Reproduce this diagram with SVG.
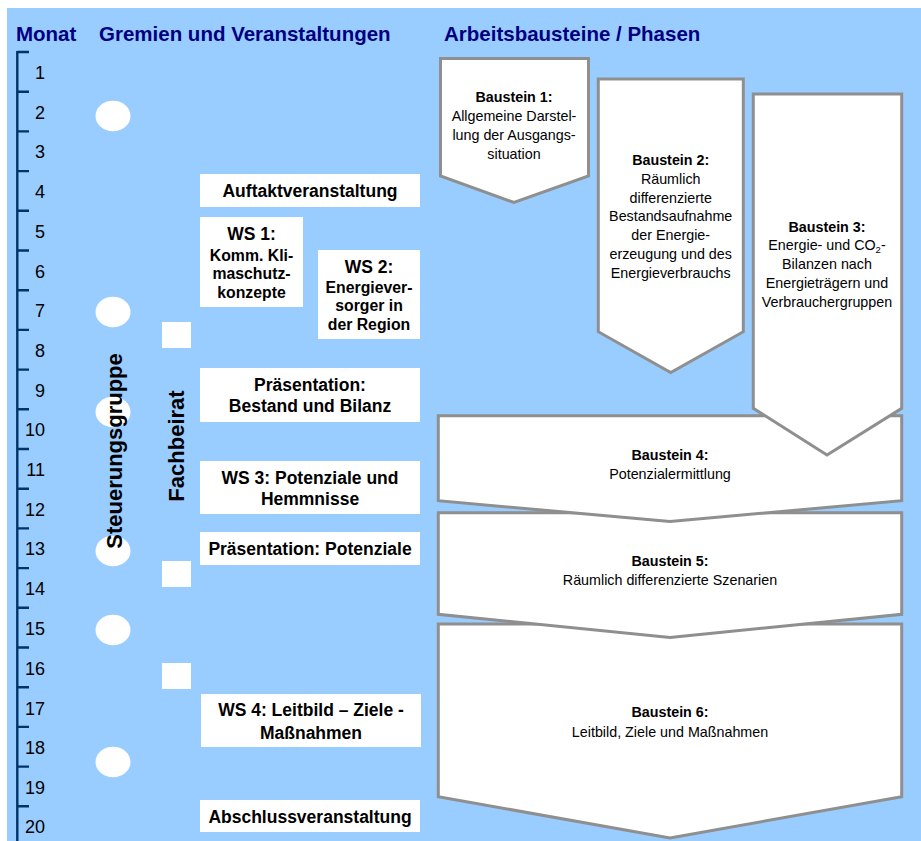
<svg xmlns="http://www.w3.org/2000/svg" width="921" height="841" viewBox="0 0 921 841">
<style>
text{font-family:"Liberation Sans",Arial,sans-serif;fill:#000}
.hd{font-size:20.5px;font-weight:bold;fill:#000080}
.mo{font-size:18px;text-anchor:end}
.ev{font-size:17.5px;font-weight:bold;text-anchor:middle}
.evs{font-size:15.8px;font-weight:bold;text-anchor:middle}
.vt{font-size:22px;font-weight:bold;text-anchor:middle}
.bs{font-size:14.3px;text-anchor:middle}
.bsb{font-weight:bold}
.box{fill:#fff}
.ph{fill:#fff;stroke:#8f8f8f;stroke-width:3;stroke-linejoin:miter}
.tl{stroke:#003366;stroke-width:2.4;fill:none}
</style>
<rect x="7" y="8" width="914" height="833" fill="#99CCFF"/>
<g id="headers">
<text class="hd" x="16" y="41">Monat</text>
<text class="hd" x="99" y="41">Gremien und Veranstaltungen</text>
<text class="hd" x="444" y="41">Arbeitsbausteine / Phasen</text>
</g>
<g id="timeline">
<path class="tl" d="M17.3,51 V841 M17.3,52 H29 M17.3,91.7 H29 M17.3,131.4 H29 M17.3,171.1 H29 M17.3,210.8 H29 M17.3,250.5 H29 M17.3,290.2 H29 M17.3,329.9 H29 M17.3,369.6 H29 M17.3,409.3 H29 M17.3,449 H29 M17.3,488.7 H29 M17.3,528.4 H29 M17.3,568.1 H29 M17.3,607.8 H29 M17.3,647.5 H29 M17.3,687.2 H29 M17.3,726.9 H29 M17.3,766.6 H29 M17.3,806.3 H29"/>
<text class="mo" x="45" y="79">1</text>
<text class="mo" x="45" y="118.7">2</text>
<text class="mo" x="45" y="158.4">3</text>
<text class="mo" x="45" y="198.1">4</text>
<text class="mo" x="45" y="238">5</text>
<text class="mo" x="45" y="277.5">6</text>
<text class="mo" x="45" y="317.2">7</text>
<text class="mo" x="45" y="356.9">8</text>
<text class="mo" x="45" y="396.6">9</text>
<text class="mo" x="45" y="436.3">10</text>
<text class="mo" x="45" y="476">11</text>
<text class="mo" x="45" y="515.7">12</text>
<text class="mo" x="45" y="555.4">13</text>
<text class="mo" x="45" y="595.1">14</text>
<text class="mo" x="45" y="634.8">15</text>
<text class="mo" x="45" y="674.5">16</text>
<text class="mo" x="45" y="714.5">17</text>
<text class="mo" x="45" y="753.9">18</text>
<text class="mo" x="45" y="793.6">19</text>
<text class="mo" x="45" y="833.3">20</text>
</g>
<g id="steuerungsgruppe">
<ellipse class="box" cx="113" cy="116" rx="17.5" ry="15.3"/>
<ellipse class="box" cx="113" cy="312" rx="17.5" ry="15.3"/>
<ellipse class="box" cx="113" cy="412" rx="17.5" ry="15.3"/>
<ellipse class="box" cx="113" cy="551" rx="17.5" ry="15.3"/>
<ellipse class="box" cx="113" cy="630" rx="17.5" ry="15.3"/>
<ellipse class="box" cx="113" cy="762" rx="17.5" ry="15.3"/>
<text class="vt" transform="translate(121.5,451) rotate(-90)">Steuerungsgruppe</text>
</g>
<g id="fachbeirat">
<rect class="box" x="162" y="322" width="29" height="26"/>
<rect class="box" x="162" y="561" width="29" height="26"/>
<rect class="box" x="162" y="663" width="29" height="26"/>
<text class="vt" transform="translate(184,446) rotate(-90)">Fachbeirat</text>
</g>
<g id="auftakt">
<rect class="box" x="200" y="174" width="220" height="33"/>
<text class="ev" x="310" y="196.8">Auftaktveranstaltung</text>
</g>
<g id="ws1">
<rect class="box" x="200" y="217" width="103" height="90"/>
<text class="ev" x="251.5" y="239.5">WS 1:</text>
<text class="evs" x="251.5" y="261">Komm. Kli-</text>
<text class="evs" x="251.5" y="279.3">maschutz-</text>
<text class="evs" x="251.5" y="297.6">konzepte</text>
</g>
<g id="ws2">
<rect class="box" x="318" y="250" width="102" height="89"/>
<text class="ev" x="369" y="272.7">WS 2:</text>
<text class="evs" x="369" y="292.7">Energiever-</text>
<text class="evs" x="369" y="311.2">sorger in</text>
<text class="evs" x="369" y="329.7">der Region</text>
</g>
<g id="praes1">
<rect class="box" x="200" y="368" width="220" height="54"/>
<text class="ev" x="310" y="391">Präsentation:</text>
<text class="ev" x="310" y="412">Bestand und Bilanz</text>
</g>
<g id="ws3">
<rect class="box" x="200" y="461" width="220" height="53"/>
<text class="ev" x="310" y="484">WS 3: Potenziale und</text>
<text class="ev" x="310" y="505">Hemmnisse</text>
</g>
<g id="praes2">
<rect class="box" x="200" y="532" width="220" height="33"/>
<text class="ev" x="310" y="554.5">Präsentation: Potenziale</text>
</g>
<g id="ws4">
<rect class="box" x="201" y="694" width="220" height="53"/>
<text class="ev" x="311" y="716">WS 4: Leitbild – Ziele -</text>
<text class="ev" x="311" y="739">Maßnahmen</text>
</g>
<g id="abschluss">
<rect class="box" x="200" y="800" width="220" height="32"/>
<text class="ev" x="310" y="823">Abschlussveranstaltung</text>
</g>
<g id="connectors"/>
<g id="baustein6">
<polygon class="ph" points="438.3,624 901.7,624 901.7,796.7 670,838 438.3,796.7"/>
<text class="bs" x="670" y="717.3"><tspan class="bsb">Baustein 6:</tspan></text>
<text class="bs" x="670" y="736.7">Leitbild, Ziele und Maßnahmen</text>
</g>
<g id="baustein5">
<polygon class="ph" points="438.3,512.7 901.7,512.7 901.7,614.3 670,637.5 438.3,614.3"/>
<text class="bs" x="670" y="565.5"><tspan class="bsb">Baustein 5:</tspan></text>
<text class="bs" x="670" y="584.8">Räumlich differenzierte Szenarien</text>
</g>
<g id="baustein4">
<polygon class="ph" points="438.3,415.7 901.7,415.7 901.7,500.7 670,521.5 438.3,500.7"/>
<text class="bs" x="670" y="460"><tspan class="bsb">Baustein 4:</tspan></text>
<text class="bs" x="670" y="479">Potenzialermittlung</text>
</g>
<g id="baustein3">
<polygon class="ph" points="753.3,94 901.7,94 901.7,408.3 827,455 753.3,408.3"/>
<text class="bs" x="827" y="231.5"><tspan class="bsb">Baustein 3:</tspan></text>
<text class="bs" x="827" y="250.3">Energie- und CO<tspan font-size="9.5px" dy="3">2</tspan><tspan dy="-3">-</tspan></text>
<text class="bs" x="827" y="269.1">Bilanzen nach</text>
<text class="bs" x="827" y="287.9">Energieträgern und</text>
<text class="bs" x="827" y="306.7">Verbrauchergruppen</text>
</g>
<g id="baustein2">
<polygon class="ph" points="598.3,79 743.3,79 743.3,331.7 670.7,372.5 598.3,331.7"/>
<text class="bs" x="670.7" y="165"><tspan class="bsb">Baustein 2:</tspan></text>
<text class="bs" x="670.7" y="183.8">Räumlich</text>
<text class="bs" x="670.7" y="202.6">differenzierte</text>
<text class="bs" x="670.7" y="221.4">Bestandsaufnahme</text>
<text class="bs" x="670.7" y="240.2">der Energie-</text>
<text class="bs" x="670.7" y="259">erzeugung und des</text>
<text class="bs" x="670.7" y="277.8">Energieverbrauchs</text>
</g>
<g id="baustein1">
<polygon class="ph" points="440.5,58.5 588.5,58.5 588.5,176 514,202.5 440.5,176"/>
<text class="bs" x="514" y="101.7"><tspan class="bsb">Baustein 1:</tspan></text>
<text class="bs" x="514" y="121">Allgemeine Darstel-</text>
<text class="bs" x="514" y="140">lung der Ausgangs-</text>
<text class="bs" x="514" y="159">situation</text>
</g>
</svg>
